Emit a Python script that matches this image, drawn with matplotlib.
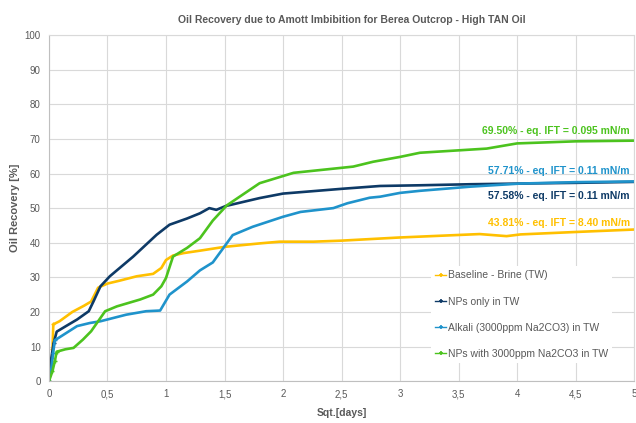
import numpy as np
import matplotlib
matplotlib.use("Agg")
from matplotlib import pyplot as plt
from matplotlib.lines import Line2D
from matplotlib.ticker import FuncFormatter

plt.rcParams['font.family'] = ['Liberation Sans', 'DejaVu Sans']

# Baseline - Brine (TW)
base_x = [0, 0.02, 0.03, 0.037, 0.09, 0.2, 0.3, 0.36, 0.42, 0.5, 0.6, 0.75, 0.89, 0.96, 1.0,
          1.06, 1.15, 1.29, 1.5, 1.8, 1.97, 2.26, 2.5, 2.99, 3.68, 3.91, 4.03, 4.5, 5.0]
base_y = [0, 4.3, 9.2, 16.4, 17.3, 20.0, 21.8, 23.0, 27.0, 28.2, 29.0, 30.3, 31.0, 32.7, 35.0,
          36.3, 37.0, 37.7, 38.8, 39.8, 40.3, 40.3, 40.6, 41.5, 42.5, 41.9, 42.4, 43.1, 43.81]

# NPs only in TW
np_x = [0, 0.01, 0.02, 0.04, 0.066, 0.15, 0.24, 0.34, 0.38, 0.44, 0.52, 0.72, 0.92, 1.03, 1.18,
        1.29, 1.37, 1.43, 1.51, 1.8, 2.0, 2.51, 2.83, 3.17, 3.6, 4.03, 4.5, 5.0]
np_y = [0, 3.2, 6.6, 11.0, 14.3, 16.0, 17.8, 20.2, 23.0, 27.4, 30.3, 36.0, 42.3, 45.2, 47.0,
        48.5, 50.0, 49.5, 50.6, 52.9, 54.2, 55.6, 56.4, 56.6, 56.9, 57.1, 57.3, 57.58]

# Alkali (3000ppm Na2CO3) in TW
alk_x = [0, 0.02, 0.035, 0.05, 0.24, 0.35, 0.44, 0.66, 0.83, 0.95, 1.03, 1.18, 1.29, 1.4, 1.51,
         1.57, 1.74, 2.0, 2.15, 2.43, 2.55, 2.74, 2.83, 3.0, 3.17, 3.6, 4.03, 4.5, 5.0]
alk_y = [0, 3.5, 8.0, 11.8, 15.9, 16.8, 17.3, 19.2, 20.2, 20.4, 25.0, 28.8, 32.0, 34.3, 39.4,
         42.2, 44.6, 47.5, 48.9, 50.0, 51.4, 53.0, 53.3, 54.4, 55.0, 56.2, 57.1, 57.5, 57.71]

# NPs with 3000ppm Na2CO3 in TW
mix_x = [0, 0.03, 0.05, 0.066, 0.14, 0.21, 0.29, 0.36, 0.48, 0.58, 0.78, 0.89, 0.96, 1.0, 1.06,
         1.18, 1.29, 1.4, 1.52, 1.8, 2.09, 2.6, 2.77, 3.0, 3.17, 3.74, 4.0, 4.5, 5.0]
mix_y = [0, 2.9, 5.8, 8.5, 9.2, 9.6, 12.0, 14.4, 20.2, 21.6, 23.6, 25.0, 27.4, 29.8, 36.0,
         38.5, 41.3, 46.4, 50.8, 57.2, 60.2, 62.0, 63.4, 64.8, 66.0, 67.2, 68.7, 69.3, 69.5]

labels = ['Baseline - Brine (TW)', 'NPs only in TW',
          'Alkali (3000ppm Na2CO3) in TW', 'NPs with 3000ppm Na2CO3 in TW']
colors = ['#FFC000', '#0E3A66', '#1F93CB', '#4CC31E']
end_text = ['43.81% - eq. IFT = 8.40 mN/m', '57.58% - eq. IFT = 0.11 mN/m',
            '57.71% - eq. IFT = 0.11 mN/m', '69.50% - eq. IFT = 0.095 mN/m']
text_y = [45.7, 53.4, 60.6, 72.3]

gray = '#595959'

fig = plt.figure(figsize=(6.36, 4.23), dpi=100)
ax = fig.add_axes([0.077, 0.099, 0.92, 0.818])

series = [(base_x, base_y), (np_x, np_y), (alk_x, alk_y), (mix_x, mix_y)]
handles = []
for (xs, ys), c, lab in zip(series, colors, labels):
    ax.plot(xs, ys, color=c, lw=1.9, marker='+', ms=3, mew=1,
            markevery=slice(0, 4), solid_joinstyle='round')
    handles.append(Line2D([], [], color=c, lw=1.0, marker='+', ms=3.5, mew=1.2))

for txt, ty, c in zip(end_text, text_y, colors):
    ax.text(4.965, ty, txt, color=c, fontsize=7.5, fontweight='bold',
            ha='right', va='center')

ax.set_xlim(0, 5)
ax.set_ylim(0, 100)
ax.set_xticks(np.arange(0, 5.01, 0.5))
ax.set_yticks(np.arange(0, 101, 10))
ax.xaxis.set_major_formatter(FuncFormatter(lambda v, p: ('%g' % v).replace('.', ',')))
ax.tick_params(length=0, labelsize=7, colors=gray, pad=6)
ax.grid(True, color='#D9D9D9', lw=0.8)
ax.set_axisbelow(True)
for s in ['top', 'right']:
    ax.spines[s].set_color('#D9D9D9')
for s in ['left', 'bottom']:
    ax.spines[s].set_color('#BFBFBF')

fig.text(352 / 636, 1 - 20 / 423,
         'Oil Recovery due to Amott Imbibition for Berea Outcrop - High TAN Oil',
         fontsize=7.5, fontweight='bold', color=gray, ha='center', va='center')
ax.set_xlabel('Sqt.[days]', fontsize=7.5, fontweight='bold', color=gray, labelpad=6)
ax.set_ylabel('Oil Recovery [%]', fontsize=8, fontweight='bold', color=gray, labelpad=3)

leg = ax.legend(handles, labels, loc='upper left', bbox_to_anchor=(0.644, 0.347),
                frameon=True, facecolor='white', edgecolor='none', framealpha=1,
                fancybox=False, fontsize=7.5, labelspacing=1.55, handlelength=1.05,
                handletextpad=0.2)
for t in leg.get_texts():
    t.set_color(gray)

fig.savefig('out.png', dpi=100)
